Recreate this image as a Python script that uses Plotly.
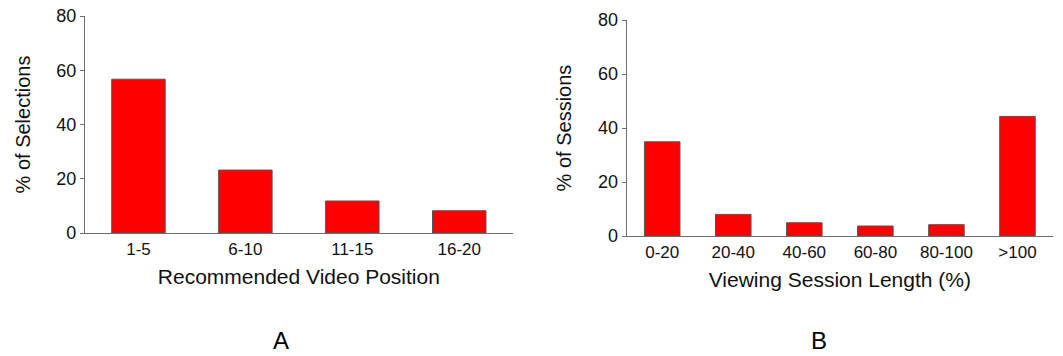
import plotly.graph_objects as go

cats_a = ["1-5", "6-10", "11-15", "16-20"]
vals_a = [56.7, 23.2, 11.8, 8.2]

cats_b = ["0-20", "20-40", "40-60", "60-80", "80-100", ">100"]
vals_b = [34.9, 8.0, 4.9, 3.7, 4.2, 44.3]

y_ticks = [0, 20, 40, 60, 80]

W, H = 1063, 356
FONT = "Liberation Sans, Arial, Helvetica, sans-serif"
AXC = "#6e6e6e"

fig = go.Figure()
fig.add_trace(go.Bar(x=cats_a, y=vals_a, width=0.5, xaxis="x", yaxis="y",
                     marker=dict(color="#ff0000", line=dict(color="#555555", width=1)),
                     showlegend=False))
fig.add_trace(go.Bar(x=cats_b, y=vals_b, width=0.5, xaxis="x2", yaxis="y2",
                     marker=dict(color="#ff0000", line=dict(color="#555555", width=1)),
                     showlegend=False))

def xax(domain, anchor, title, n):
    return dict(domain=domain, anchor=anchor, range=[-0.5, n - 0.5], showline=True,
                linecolor=AXC, linewidth=1.2, ticks="", showgrid=False, zeroline=False,
                tickfont=dict(size=17, color="#111"), automargin=False,
                title=dict(text=title, font=dict(size=21, color="#111"), standoff=11),
                fixedrange=True)

def yax(domain, anchor, title):
    return dict(domain=domain, anchor=anchor, range=[0, 80], tickvals=y_ticks,
                showline=True, linecolor=AXC, linewidth=1.2, ticks="outside",
                ticklen=4, tickcolor=AXC, showgrid=False, zeroline=False,
                tickfont=dict(size=18, color="#111"), automargin=False,
                title=dict(text=title, font=dict(size=20, color="#111"), standoff=20))

fig.update_layout(
    width=W, height=H,
    margin=dict(l=0, r=0, t=0, b=0),
    paper_bgcolor="white", plot_bgcolor="white",
    font=dict(family=FONT, color="#111"),
    bargap=0.5,
    xaxis=xax([85 / W, 512.7 / W], "y", "Recommended Video Position", len(cats_a)),
    yaxis=yax([1 - 233 / H, 1 - 16 / H], "x", "% of Selections"),
    xaxis2=xax([626.7 / W, 1053 / W], "y2", "Viewing Session Length (%)", len(cats_b)),
    yaxis2=yax([1 - 236 / H, 1 - 20 / H], "x2", "% of Sessions"),
    annotations=[
        dict(text="A", x=281 / W, y=1 - 340 / H, xref="paper", yref="paper",
             showarrow=False, font=dict(size=24, color="#000"), xanchor="center", yanchor="middle"),
        dict(text="B", x=819 / W, y=1 - 340 / H, xref="paper", yref="paper",
             showarrow=False, font=dict(size=24, color="#000"), xanchor="center", yanchor="middle"),
    ],
)

fig.write_html("out.html", config={"displayModeBar": False},
               post_script="document.body.style.margin='0';document.body.style.overflow='hidden';")
